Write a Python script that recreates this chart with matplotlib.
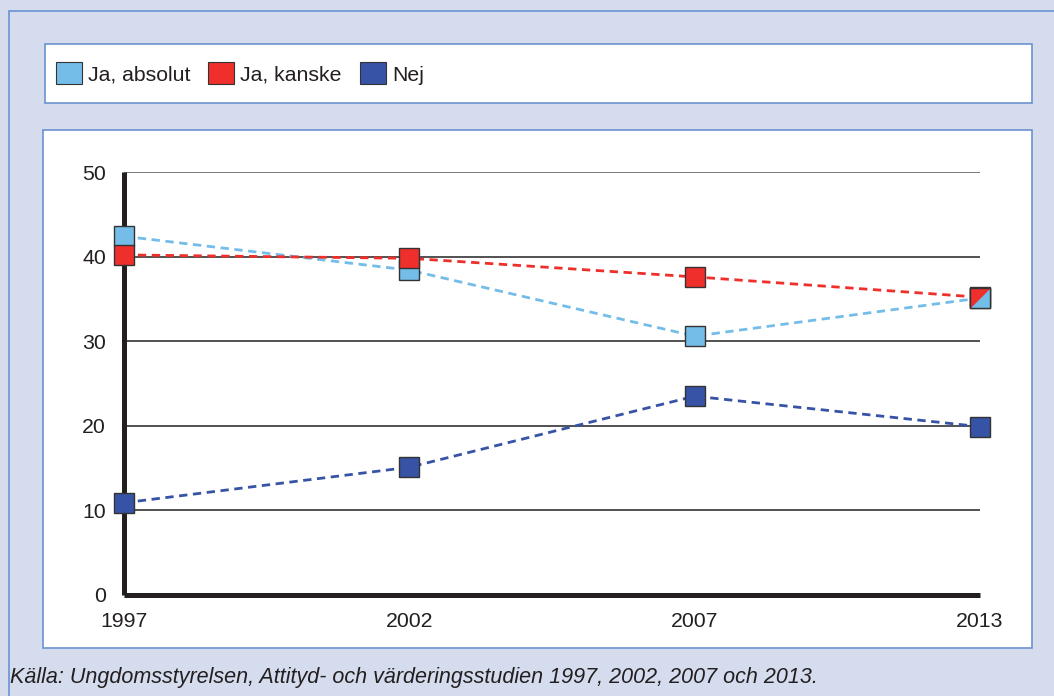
import matplotlib
matplotlib.use("Agg")
import matplotlib.pyplot as plt
from matplotlib.patches import Rectangle, Patch

plt.rcParams['font.family'] = ['Liberation Sans', 'DejaVu Sans']

years = ["1997", "2002", "2007", "2013"]
ja_absolut = [42.4, 38.4, 30.6, 35.1]
ja_kanske = [40.2, 39.8, 37.6, 35.2]
nej = [10.9, 15.1, 23.5, 19.9]
yticks = [0, 10, 20, 30, 40, 50]
series_names = ["Ja, absolut", "Ja, kanske", "Nej"]
caption = "Källa: Ungdomsstyrelsen, Attityd- och värderingsstudien 1997, 2002, 2007 och 2013."

c_light = "#73bde8"
c_red = "#ee2f2b"
c_dark = "#3753a6"
c_bg = "#d4dcee"
c_border = "#6a92cf"
c_edge = "#333333"
c_axis = "#231f20"

W, H = 1054, 696
fig = plt.figure(figsize=(W / 100, H / 100), dpi=100)
fig.patch.set_facecolor(c_bg)

def box(x0, y0, x1, y1, fc, ec, lw=1.2):
    fig.patches.append(Rectangle((x0 / W, 1 - y1 / H), (x1 - x0) / W, (y1 - y0) / H,
                                 transform=fig.transFigure, facecolor=fc, edgecolor=ec,
                                 linewidth=lw, zorder=-5))

# outer frame, legend box, plot box
box(9, 11, W + 10, H + 10, c_bg, c_border)
box(45, 44, 1032, 103, "white", c_border)
box(43, 130, 1032, 648, "white", c_border)

ax = fig.add_axes([124 / W, 1 - 595 / H, (980 - 124) / W, (595 - 172) / H])
ax.set_zorder(2)
ax.set_facecolor("none")
x = list(range(len(years)))
ax.set_xlim(0, len(years) - 1)
ax.set_ylim(0, 50)

for sp in ["top", "right"]:
    ax.spines[sp].set_visible(False)
for sp in ["left", "bottom"]:
    ax.spines[sp].set_linewidth(3.6)
    ax.spines[sp].set_color(c_axis)
    ax.spines[sp].set_zorder(2)
    ax.spines[sp].set_capstyle("butt")

for v in yticks[1:]:
    ax.axhline(v, color="#222222" if v != 50 else "#555555", linewidth=1.1, zorder=1)

ax.set_yticks(yticks)
ax.set_xticks(x)
ax.set_xticklabels(years)
ax.tick_params(axis="both", length=0, labelsize=15.3, colors="#231f20")
ax.tick_params(axis="y", pad=13)
ax.tick_params(axis="x", pad=12)

ms = 14
common = dict(linestyle=(0, (3, 2)), linewidth=2.0, marker="s", markersize=ms,
              markeredgecolor=c_edge, markeredgewidth=1.0, clip_on=False)
ax.plot(x, ja_absolut, color=c_light, zorder=4, **common)
ax.plot(x, ja_kanske, color=c_red, zorder=5, **common)
ax.plot(x, nej, color=c_dark, zorder=4, **common)
# 2013 overlap marker: light-blue square with red upper-left half
ax.plot([x[-1]], [ja_absolut[-1]], marker="s", markersize=ms, color=c_light,
        markeredgecolor=c_edge, markeredgewidth=1.0, linestyle="none", zorder=6, clip_on=False)
ax.plot([x[-1]], [ja_absolut[-1]], marker=[(-1, -1), (-1, 1), (1, 1)], markersize=ms,
        color=c_red, markeredgecolor=c_edge, markeredgewidth=1.0, linestyle="none",
        zorder=7, clip_on=False)

handles = [Patch(facecolor=c, edgecolor=c_edge, linewidth=0.8) for c in (c_light, c_red, c_dark)]
fig.legend(handles, series_names, loc="center left",
           bbox_to_anchor=(56 / W, 1 - 73.5 / H), ncol=3, frameon=False, borderpad=0,
           borderaxespad=0, fontsize=15.3, handlelength=1.22, handleheight=1.22,
           handletextpad=0.28, columnspacing=0.85, labelcolor="#231f20")

fig.text(10 / W, 1 - 678 / H, caption, fontsize=15.5, style="italic",
         color="#231f20", va="center", ha="left")

fig.savefig("out.png", dpi=100, facecolor=fig.get_facecolor())
